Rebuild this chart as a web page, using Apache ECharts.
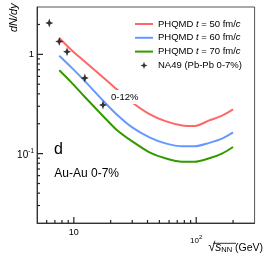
<!DOCTYPE html>
<html><head><meta charset="utf-8">
<script src="https://cdn.jsdelivr.net/npm/echarts@6/dist/echarts.min.js"></script>
<style>html,body{margin:0;padding:0;background:#fff}#c{width:266px;height:254px}</style>
</head><body><div id="c"></div>
<script>
// ---- data ----
const xVals   = [7.6, 9.5, 12.2, 17.3, 22.2, 30, 41.5, 56, 77, 97, 128, 164, 200];
const red50   = [1.461, 1.115, 0.852, 0.588, 0.449, 0.327, 0.250, 0.2125, 0.1923, 0.190, 0.216, 0.2424, 0.2785];
const blue60  = [0.970, 0.744, 0.544, 0.343, 0.251, 0.1836, 0.1458, 0.1269, 0.1184, 0.1184, 0.1284, 0.1424, 0.1636];
const green70 = [0.691, 0.525, 0.376, 0.2395, 0.1754, 0.1329, 0.1031, 0.0897, 0.0827, 0.0827, 0.0897, 0.1007, 0.1165];
const na49X = [6.3, 7.6, 8.8, 12.3, 17.3];
const na49Y = [2.07, 1.35, 1.06, 0.577, 0.309];
const seriesNames = ['PHQMD t = 50 fm/c', 'PHQMD t = 60 fm/c', 'PHQMD t = 70 fm/c', 'NA49 (Pb-Pb 0-7%)'];
const xMajorTicks = [10, 100];
const xMinorTicks = [6, 7, 8, 9, 20, 30, 40, 50, 60, 70, 80, 90, 200];
const yMajorTicks = [0.1, 1];
const yMinorTicks = [0.03, 0.04, 0.05, 0.06, 0.07, 0.08, 0.09, 0.2, 0.3, 0.4, 0.5, 0.6, 0.7, 0.8, 0.9, 2];

const X_MIN = 5, X_MAX = 300, Y_MIN = 0.02, Y_MAX = 3;
const FONT = '"Liberation Sans", Arial, Helvetica, sans-serif';
const AX = '#333';
const zip = (xs, ys) => xs.map((x, i) => [x, ys[i]]);
const starPath = 'path://M0,-5 L1.4,-1.4 L5,0 L1.4,1.4 L0,5 L-1.4,1.4 L-5,0 L-1.4,-1.4 Z';
const starLegend = 'path://M-7,-7 M0,-5 L1.4,-1.4 L5,0 L1.4,1.4 L0,5 L-1.4,1.4 L-5,0 L-1.4,-1.4 Z M7,7';
const lineLegend = 'path://M0,0 M0,4 L18,4 L18,6 L0,6 Z M18,10';

// tick records: [x, y, length, 0 = x-axis tick / 1 = y-axis tick]
const tickData = []
  .concat(xMajorTicks.map(v => [v, 1, 6, 0]))
  .concat(xMinorTicks.map(v => [v, 1, 3, 0]))
  .concat(yMajorTicks.map(v => [10, v, 6, 1]))
  .concat(yMinorTicks.map(v => [10, v, 3, 1]));

const chart = echarts.init(document.getElementById('c'), null, {renderer: 'canvas'});

function lineSeries(name, ys, color) {
  return {
    name, type: 'line', data: zip(xVals, ys), symbol: 'none', showSymbol: false,
    smooth: 0.3, lineStyle: {color, width: 2}, itemStyle: {color}, z: 2
  };
}

const legendFmt = n => {
  const m = n.match(/^PHQMD t = (\d+) fm\/c$/);
  if (m) return '{a|PHQMD }{i|t}{a| = ' + m[1] + ' fm/}{i|c}';
  return '{a|' + n + '}';
};

chart.setOption({
  animation: false,
  textStyle: {fontFamily: FONT},
  grid: {left: 37, top: 7, right: 11, bottom: 31, show: true, borderColor: '#555', borderWidth: 1},
  legend: {
    orient: 'vertical', left: 135, top: 18, padding: 0, itemGap: 1.8,
    itemWidth: 18, itemHeight: 10,
    data: [
      {name: seriesNames[0], icon: lineLegend}, {name: seriesNames[1], icon: lineLegend},
      {name: seriesNames[2], icon: lineLegend},
      {name: seriesNames[3], icon: starLegend, itemStyle: {color: '#000'}}
    ],
    formatter: legendFmt,
    textStyle: {
      color: '#000', fontSize: 9.5, lineHeight: 12, fontFamily: FONT,
      rich: {a: {fontSize: 9.5, fontFamily: FONT, color: '#000'},
             i: {fontSize: 9.5, fontFamily: FONT, fontStyle: 'italic', color: '#000'}}
    }
  },
  xAxis: {
    type: 'log', logBase: 10, min: X_MIN, max: X_MAX, position: 'bottom',
    axisLine: {show: true, onZero: false, lineStyle: {color: AX, width: 1}},
    axisTick: {show: false},
    minorTick: {show: false}, splitLine: {show: false},
    axisLabel: {
      customValues: xMajorTicks, margin: 5, color: '#000',
      formatter: v => (Math.abs(v - 10) < 1e-6 ? '{m|10}' : '{n|10}{s|2}'),
      rich: {
        m: {fontSize: 9, fontFamily: FONT, color: '#000'},
        n: {fontSize: 8, fontFamily: FONT, color: '#000', padding: [8.3, 0, 0, 0], verticalAlign: 'bottom'},
        s: {fontSize: 6, fontFamily: FONT, color: '#000', padding: [0, 0, 4.1, 0], verticalAlign: 'bottom'}
      }
    },
    name: '{r|√}{s|s}{sub|NN}{g| (GeV)}',
    nameLocation: 'end', nameGap: 8.3,
    nameTextStyle: {
      align: 'right', verticalAlign: 'top', padding: [18, 0, 0, 0], color: '#000',
      rich: {
        r: {fontSize: 13, fontFamily: FONT, color: '#000', verticalAlign: 'bottom'},
        s: {fontSize: 12, fontFamily: FONT, fontStyle: 'italic', color: '#000', verticalAlign: 'bottom'},
        sub: {fontSize: 7.5, fontFamily: FONT, color: '#000', verticalAlign: 'bottom'},
        g: {fontSize: 10.5, fontFamily: FONT, color: '#000', verticalAlign: 'bottom', padding: [0, 0, 0.5, 0]}
      }
    }
  },
  yAxis: {
    type: 'log', logBase: 10, min: Y_MIN, max: Y_MAX, position: 'left',
    axisLine: {show: true, onZero: false, lineStyle: {color: AX, width: 1}},
    axisTick: {show: false},
    minorTick: {show: false}, splitLine: {show: false},
    axisLabel: {
      customValues: yMajorTicks, margin: 3, color: '#000',
      formatter: v => (Math.abs(v - 1) < 1e-6 ? '{o|1}' : '{n|10}{s|-1}'),
      rich: {
        o: {fontSize: 9.5, fontFamily: FONT, color: '#000'},
        n: {fontSize: 10, fontFamily: FONT, color: '#000', verticalAlign: 'bottom'},
        s: {fontSize: 6.5, fontFamily: FONT, color: '#000', padding: [0, 0, 5.5, 0], verticalAlign: 'bottom'}
      }
    },
    name: 'dN/dy', nameLocation: 'end', nameRotate: 90, nameGap: 3.7,
    nameTextStyle: {
      align: 'right', verticalAlign: 'bottom', padding: [0, 0, 18, 0],
      fontSize: 11, fontStyle: 'italic', fontFamily: FONT, color: '#000'
    }
  },
  series: [
    {
      type: 'custom', clip: false, z: 10, data: tickData,
      renderItem: (params, api) => {
        const cs = params.coordSys;
        const pt = api.coord([api.value(0), api.value(1)]);
        const len = api.value(2), dir = api.value(3);
        let shape;
        if (dir === 0) {
          const y0 = cs.y + cs.height;
          shape = {x1: pt[0], y1: y0, x2: pt[0], y2: y0 - len};
        } else {
          shape = {x1: cs.x, y1: pt[1], x2: cs.x + len, y2: pt[1]};
        }
        return {type: 'line', shape, style: {stroke: '#222', lineWidth: 1.2}};
      }
    },
    lineSeries(seriesNames[0], red50, '#ff6666'),
    lineSeries(seriesNames[1], blue60, '#6699ff'),
    lineSeries(seriesNames[2], green70, '#339900'),
    {
      name: seriesNames[3], type: 'scatter', data: zip(na49X, na49Y),
      symbol: starPath, symbolSize: [8, 9], itemStyle: {color: '#000'}, z: 5
    }
  ],
  graphic: [
    {type: 'text', x: 111, y: 97, z: 50,
     style: {text: '0-12%', fontSize: 9.5, fontFamily: FONT, fill: '#000',
             verticalAlign: 'middle', align: 'left', backgroundColor: '#fff', padding: [2, 0, 2, 0]}},
    {type: 'text', x: 54, y: 149.5, z: 50,
     style: {text: 'd', fontSize: 16, fontFamily: FONT, fill: '#000', verticalAlign: 'middle', align: 'left'}},
    {type: 'text', x: 54.3, y: 173.7, z: 50,
     style: {text: 'Au-Au 0-7%', fontSize: 12, fontFamily: FONT, fill: '#000', verticalAlign: 'middle', align: 'left'}},
    {type: 'line', z: 50, shape: {x1: 213, y1: 243.3, x2: 236, y2: 243.3},
     style: {stroke: '#000', lineWidth: 0.8}}
  ]
});
</script></body></html>
